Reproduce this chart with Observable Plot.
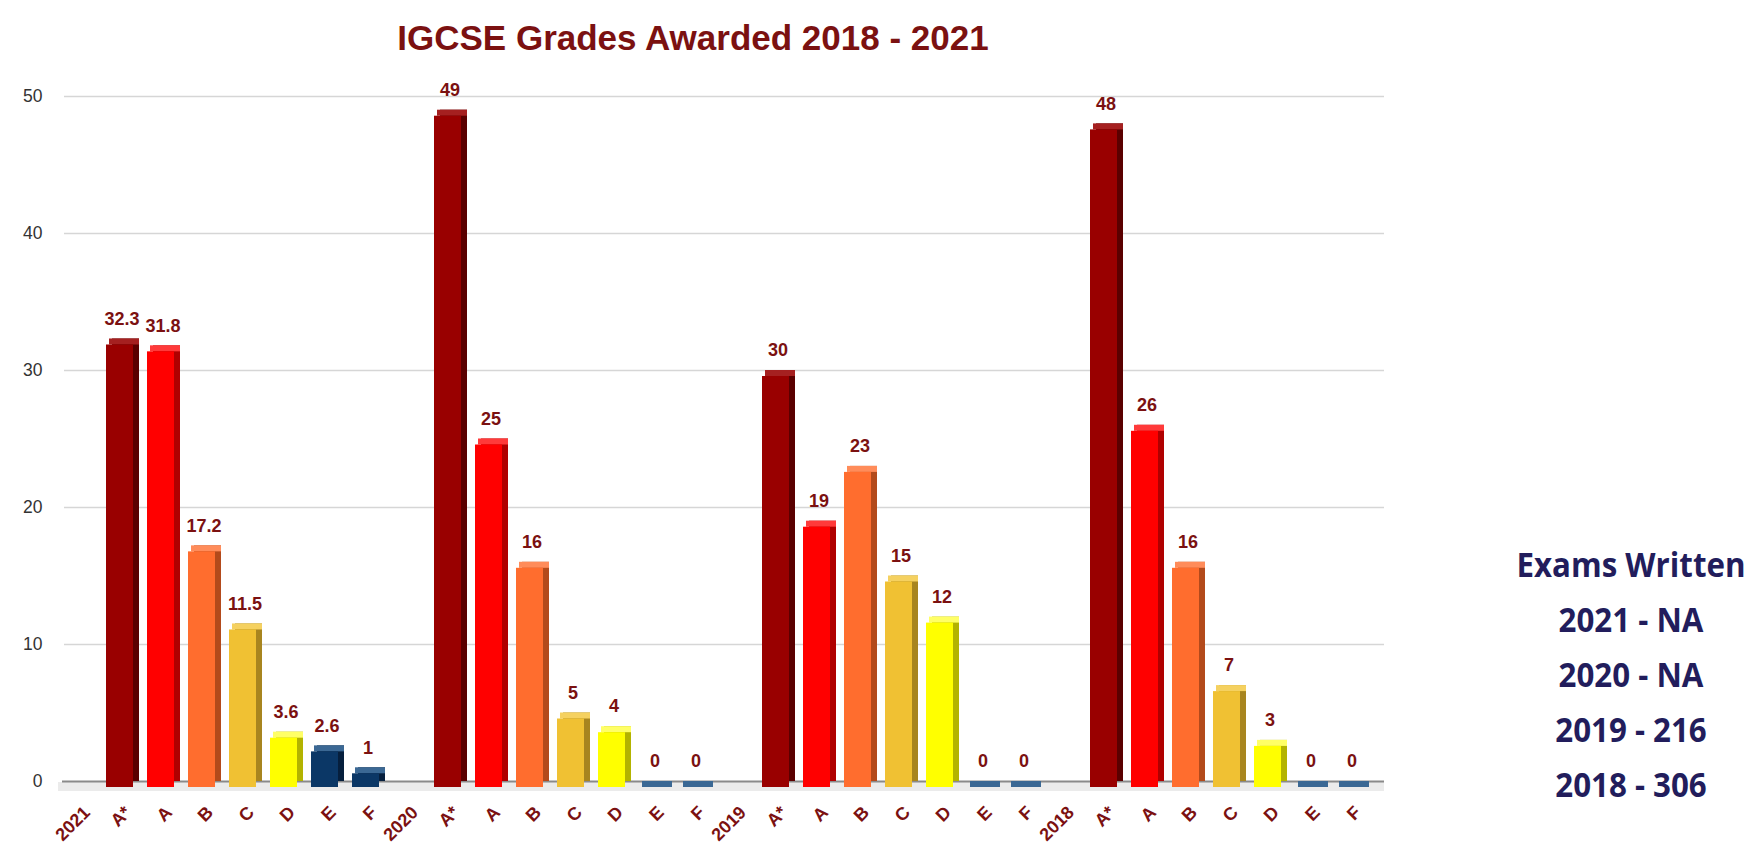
<!DOCTYPE html>
<html>
<head>
<meta charset="utf-8">
<script src="https://cdn.jsdelivr.net/npm/d3@7"></script>
<script src="https://cdn.jsdelivr.net/npm/@observablehq/plot@0.6"></script>
<style>
  html, body { margin: 0; padding: 0; background: #fff; }
  #wrap { position: relative; width: 1752px; height: 846px; overflow: hidden; }
  #chart svg [aria-label^="x-axis"] text { fill: #7b1111; font: bold 18px "Liberation Sans", Arial, sans-serif; }
  #chart svg [aria-label^="y-axis"] text { fill: #333333; font: 17.5px "Liberation Sans", Arial, sans-serif; }
  #title { position: absolute; left: 693px; top: 20px; transform: translateX(-50%); white-space: nowrap;
           font: bold 35px/35px "Liberation Sans", Arial, sans-serif; color: #7b1111; }
  #legend { position: absolute; left: 1631px; top: 537px; transform: translateX(-50%) scaleX(0.92); transform-origin: 50% 0;
            white-space: nowrap; text-align: center;
            font: 700 34px/55px "Open Sans", sans-serif; color: #221d5c; }
</style>
</head>
<body>
<div id="wrap">
  <div id="chart"></div>
  <div id="title"></div>
  <div id="legend"></div>
</div>
<script>
const titleText = "IGCSE Grades Awarded 2018 - 2021";
const years = ["2021", "2020", "2019", "2018"];
const grades = ["A*", "A", "B", "C", "D", "E", "F"];
const pct2021 = [32.3, 31.8, 17.2, 11.5, 3.6, 2.6, 1];
const pct2020 = [49, 25, 16, 5, 4, 0, 0];
const pct2019 = [30, 19, 23, 15, 12, 0, 0];
const pct2018 = [48, 26, 16, 7, 3, 0, 0];
const yTicks = [0, 10, 20, 30, 40, 50];
const legendTitle = "Exams Written";
const examsWritten = ["2021 - NA", "2020 - NA", "2019 - 216", "2018 - 306"];

const pal = {
  "A*": {front: "#990000", side: "#5a0000", top: "#a52020"},
  "A":  {front: "#ff0000", side: "#b00000", top: "#ff3a3a"},
  "B":  {front: "#ff6d2e", side: "#b34a1b", top: "#ff8c5a"},
  "C":  {front: "#f0c133", side: "#a8851f", top: "#f5d160"},
  "D":  {front: "#ffff00", side: "#b3b300", top: "#ffff66"},
  "E":  {front: "#0b3766", side: "#061f3d", top: "#3b6894"},
  "F":  {front: "#0b3766", side: "#061f3d", top: "#3b6894"}
};

const series = [pct2021, pct2020, pct2019, pct2018];
const rows = [];
years.forEach((yr, i) => grades.forEach((g, j) => rows.push({key: yr + "|" + g, year: yr, grade: g, value: series[i][j]})));
const domain = years.flatMap(yr => [yr, ...grades.map(g => yr + "|" + g)]);
const fmtTick = k => k.includes("|") ? k.split("|")[1] : k;

const D = 6;
const marks = [
  Plot.ruleY([0], {stroke: "#ebebeb", strokeWidth: 9, dy: 5, insetLeft: 0, insetRight: -14}),
  Plot.ruleY(yTicks.filter(t => t > 0), {stroke: "#d6d6d6", strokeWidth: 1.5, insetLeft: 6, insetRight: -14}),
  Plot.ruleY([0], {stroke: "#8a8a8a", strokeWidth: 2, insetLeft: 4, insetRight: -14}),
  Plot.barY(rows, {x: "key", y: "value", fill: d => pal[d.grade].side, insetLeft: 7, insetRight: 7, dx: D}),
  Plot.barY(rows, {x: "key", y1: "value", y2: "value", fill: d => pal[d.grade].top, insetLeft: 7, insetRight: 7 - D / 2, insetBottom: -D, dx: D / 2}),
  Plot.barY(rows, {x: "key", y: "value", fill: d => pal[d.grade].front, insetLeft: 7, insetRight: 7, dy: D}),
  Plot.text(rows, {x: "key", y: "value", text: d => String(d.value), dy: -20, dx: 2,
    fill: "#7b1111", fontWeight: "bold", fontSize: 18, fontFamily: "Liberation Sans, Arial, sans-serif"})
];
const hasAxisMark = typeof Plot.axisX === "function";
if (hasAxisMark) {
  marks.unshift(Plot.axisX({tickRotate: -45, tickSize: 0, tickPadding: 28, dx: 8, tickFormat: fmtTick,
    fontSize: 18, fontWeight: "bold", fill: "#7b1111", label: null}));
}

const chart = Plot.plot({
  width: 1752,
  height: 846,
  marginTop: 96,
  marginBottom: 65,
  marginLeft: 58,
  marginRight: 382,
  style: {background: "transparent", overflow: "visible"},
  x: {domain, padding: 0, label: null, tickSize: 0, tickPadding: hasAxisMark ? 28 : 24, tickRotate: -45, tickFormat: fmtTick},
  y: {domain: [0, 50], ticks: yTicks, label: null, tickSize: 0, tickPadding: 16},
  marks
});
document.getElementById("chart").appendChild(chart);
document.getElementById("title").textContent = titleText;
const leg = document.getElementById("legend");
[legendTitle, ...examsWritten].forEach(t => { const d = document.createElement("div"); d.textContent = t; leg.appendChild(d); });
</script>
</body>
</html>
